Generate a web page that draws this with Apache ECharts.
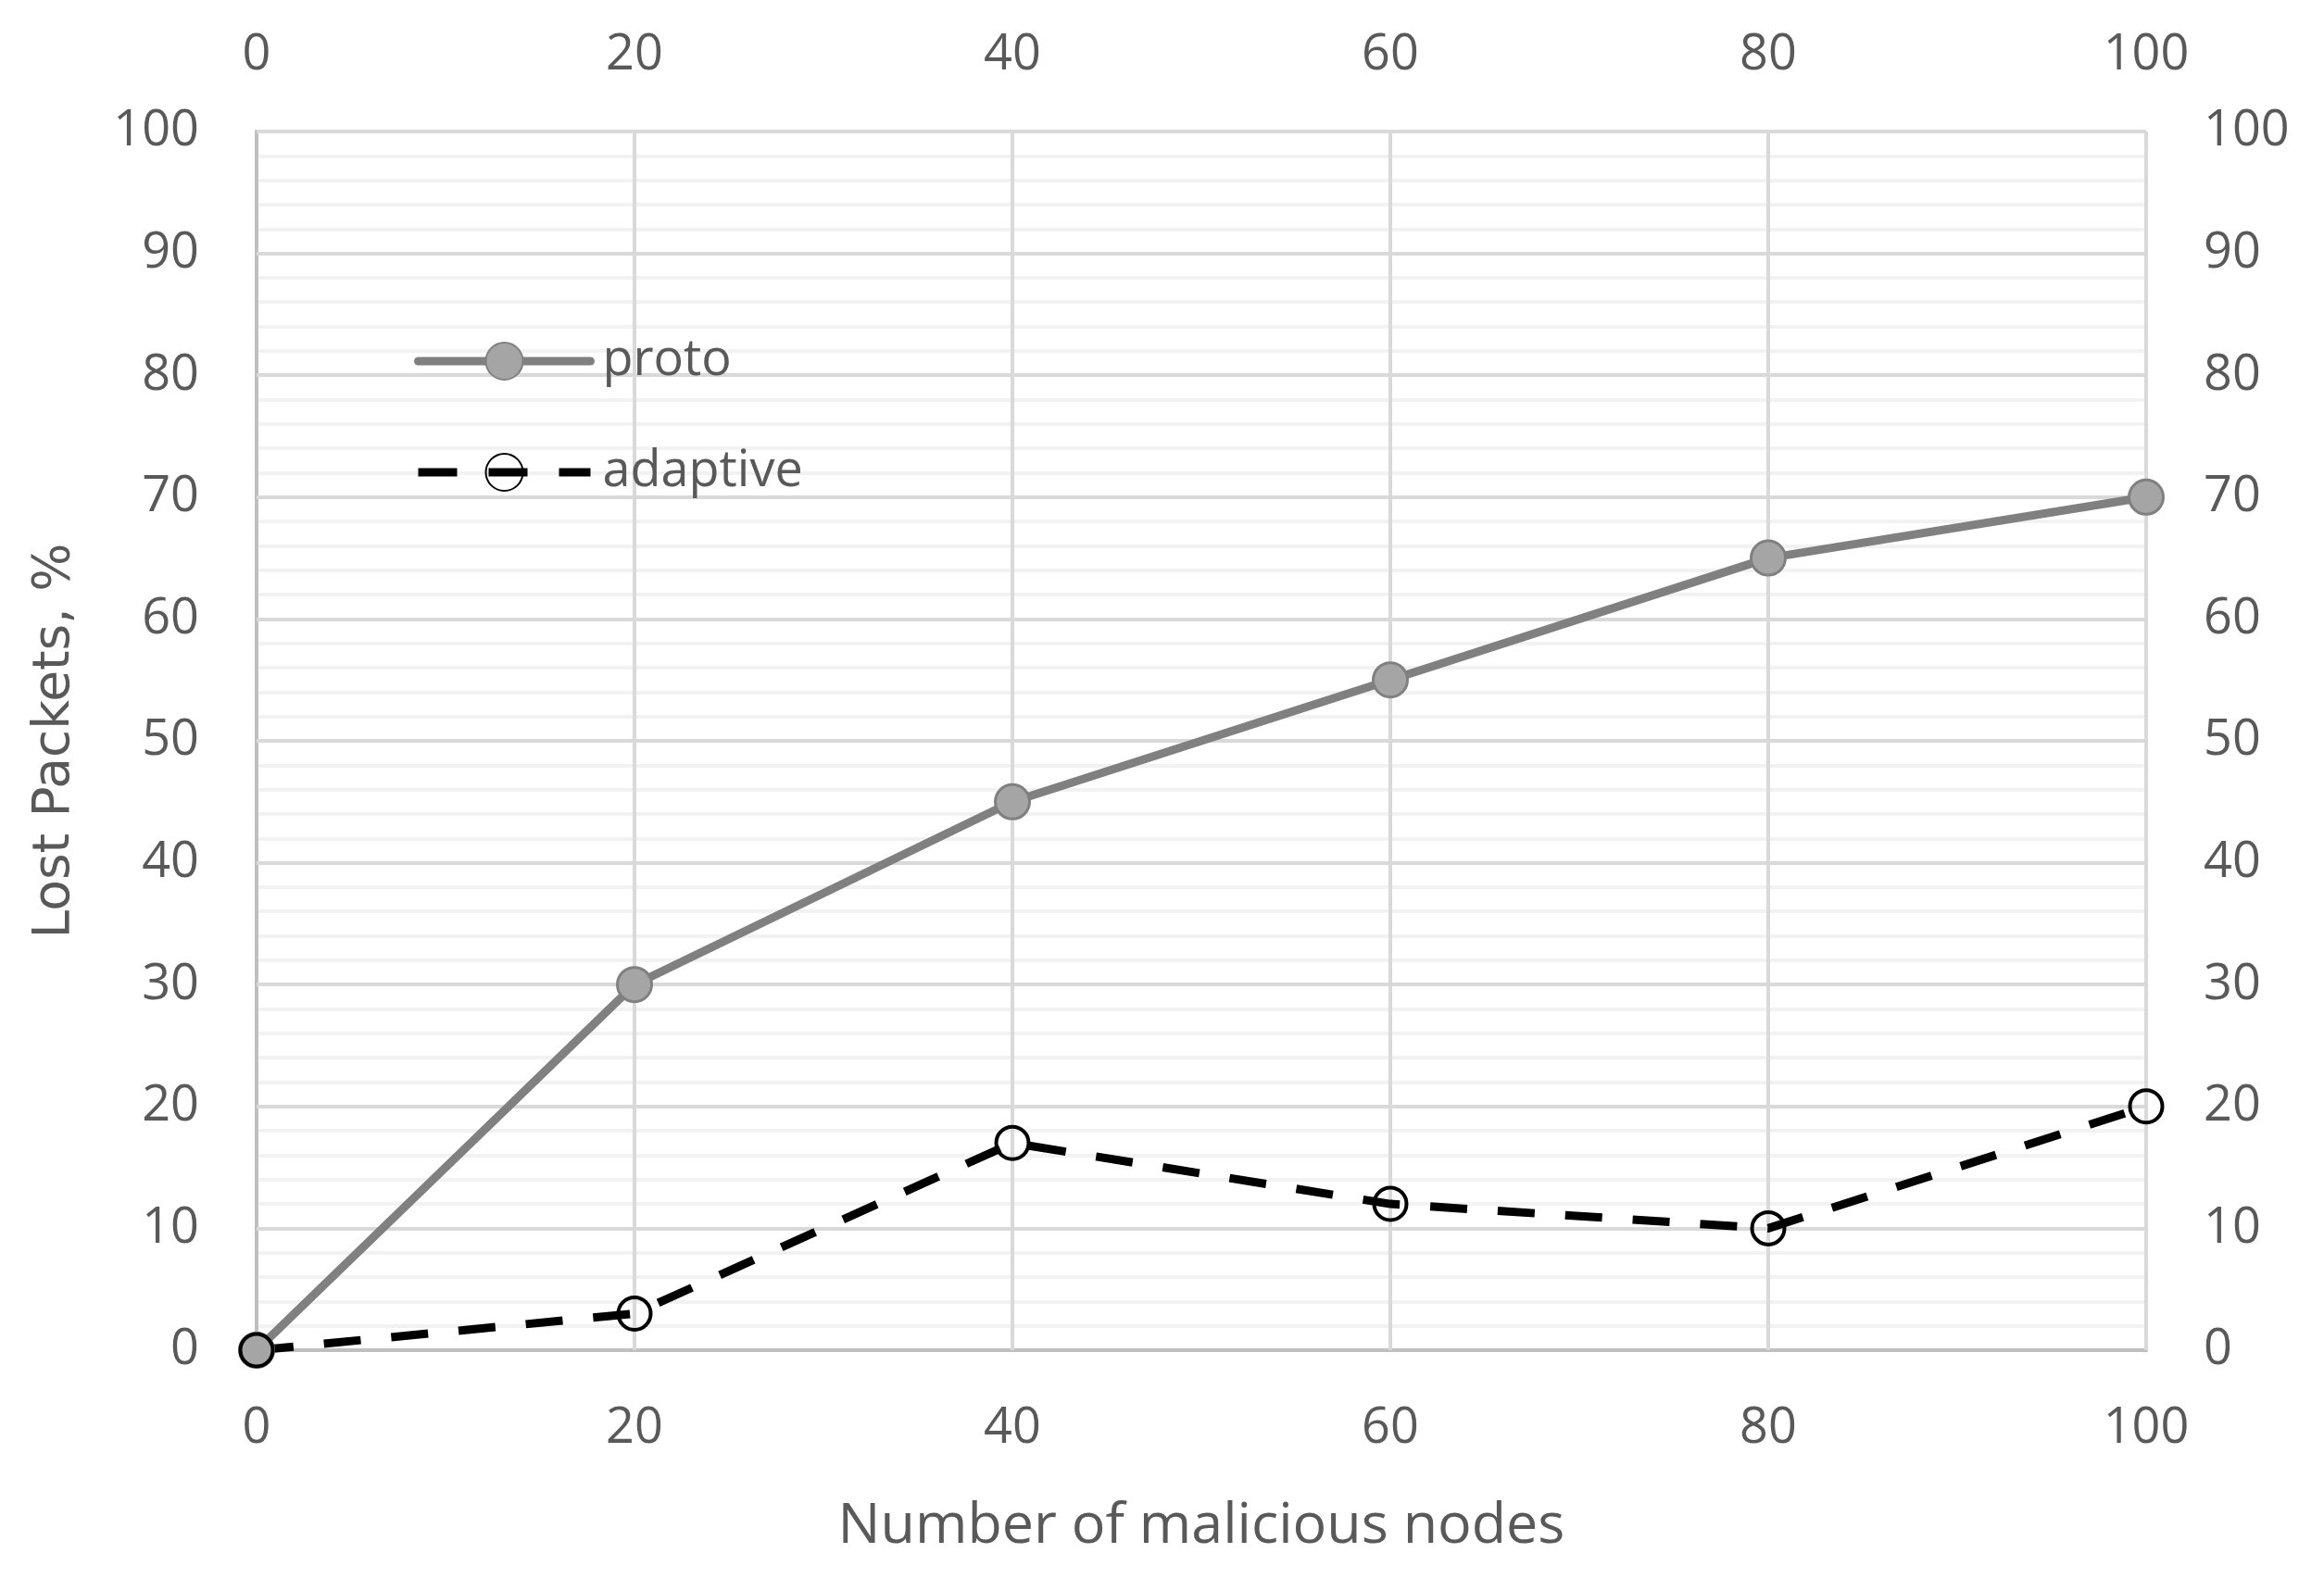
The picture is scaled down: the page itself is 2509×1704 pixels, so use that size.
<!DOCTYPE html>
<html>
<head>
<meta charset="utf-8">
<script src="https://cdn.jsdelivr.net/npm/echarts@6/dist/echarts.min.js"></script>
<style>
html,body{margin:0;padding:0;background:#fff;}
#chart{width:2509px;height:1704px;}
</style>
</head>
<body>
<div id="chart"></div>
<script>
var xValues = [0, 20, 40, 60, 80, 100];
var protoValues = [0, 30, 45, 55, 65, 70];
var adaptiveValues = [0, 3, 17, 12, 10, 20];
var seriesNames = ['proto', 'adaptive'];
var xTitle = 'Number of malicious nodes';
var yTitle = 'Lost Packets, %';

function pairs(xs, ys) { return xs.map(function (x, i) { return [x, ys[i]]; }); }

var FONT = '"Open Sans", sans-serif';
var TXT = '#595959';
var labelStyle = { color: TXT, fontSize: 54, fontFamily: FONT };

var chart = echarts.init(document.getElementById('chart'), null, { renderer: 'canvas' });
chart.setOption({
  backgroundColor: '#ffffff',
  animation: false,
  grid: { left: 277, right: 192, top: 142, bottom: 246 },
  legend: [
    {
      data: [seriesNames[0]], orient: 'vertical', left: 442, top: 358,
      itemWidth: 186, itemHeight: 50,
      lineStyle: { width: 9, color: '#808080', cap: 'round' },
      textStyle: { color: TXT, fontSize: 54, fontFamily: FONT, lineHeight: 50, padding: [0, 0, 0, 8] },
      selectedMode: false
    },
    {
      data: [seriesNames[1]], orient: 'vertical', left: 442, top: 478,
      itemWidth: 186, itemHeight: 50,
      lineStyle: { width: 9, color: '#000000', type: [42, 34] },
      textStyle: { color: TXT, fontSize: 54, fontFamily: FONT, lineHeight: 50, padding: [0, 0, 0, 8] },
      selectedMode: false
    }
  ],
  xAxis: [
    {
      type: 'value', position: 'bottom', min: 0, max: 100, interval: 20,
      name: xTitle, nameLocation: 'middle', nameGap: 160,
      nameTextStyle: { color: TXT, fontSize: 61, fontFamily: FONT },
      axisLine: { show: true, lineStyle: { color: '#bfbfbf', width: 4 } },
      axisTick: { show: false },
      axisLabel: Object.assign({ margin: 58 }, labelStyle),
      splitLine: { show: true, lineStyle: { color: '#d9d9d9', width: 4 } }
    },
    {
      type: 'value', position: 'top', min: 0, max: 100, interval: 20,
      axisLine: { show: true, lineStyle: { color: '#bfbfbf', width: 4 } },
      axisTick: { show: true, inside: false, length: 20, lineStyle: { color: '#d9d9d9', width: 4 } },
      axisLabel: Object.assign({ margin: 55 }, labelStyle),
      splitLine: { show: false }
    }
  ],
  yAxis: [
    {
      type: 'value', position: 'left', min: 0, max: 100, interval: 10,
      name: yTitle, nameLocation: 'middle', nameGap: 190, nameRotate: 90,
      nameTextStyle: { color: TXT, fontSize: 55, fontFamily: '"DejaVu Sans", sans-serif' },
      axisLine: { show: true, lineStyle: { color: '#bfbfbf', width: 4 } },
      axisTick: { show: false },
      axisLabel: Object.assign({ margin: 62 }, labelStyle),
      splitLine: { show: true, lineStyle: { color: '#d9d9d9', width: 4 } },
      minorTick: { show: false, splitNumber: 5 },
      minorSplitLine: { show: true, lineStyle: { color: '#f2f2f2', width: 4 } }
    },
    {
      type: 'value', position: 'right', min: 0, max: 100, interval: 10,
      axisLine: { show: true, lineStyle: { color: '#bfbfbf', width: 4 } },
      axisTick: { show: true, inside: false, length: 20, lineStyle: { color: '#d9d9d9', width: 4 } },
      axisLabel: Object.assign({ margin: 62 }, labelStyle),
      splitLine: { show: false }
    }
  ],
  series: [
    {
      name: seriesNames[0], type: 'line', xAxisIndex: 0, yAxisIndex: 0,
      data: pairs(xValues, protoValues),
      symbol: 'circle', symbolSize: 37,
      lineStyle: { color: '#808080', width: 9, cap: 'round' },
      itemStyle: { color: '#a5a5a5', borderColor: '#808080', borderWidth: 3 },
      emphasis: { disabled: true }
    },
    {
      name: seriesNames[1], type: 'line', xAxisIndex: 0, yAxisIndex: 0,
      data: pairs(xValues, adaptiveValues),
      symbol: 'circle', symbolSize: 35,
      lineStyle: { color: '#000000', width: 9, type: [40, 33] },
      itemStyle: { color: 'rgba(0,0,0,0)', borderColor: '#000000', borderWidth: 4 },
      emphasis: { disabled: true }
    }
  ]
});
</script>
</body>
</html>
